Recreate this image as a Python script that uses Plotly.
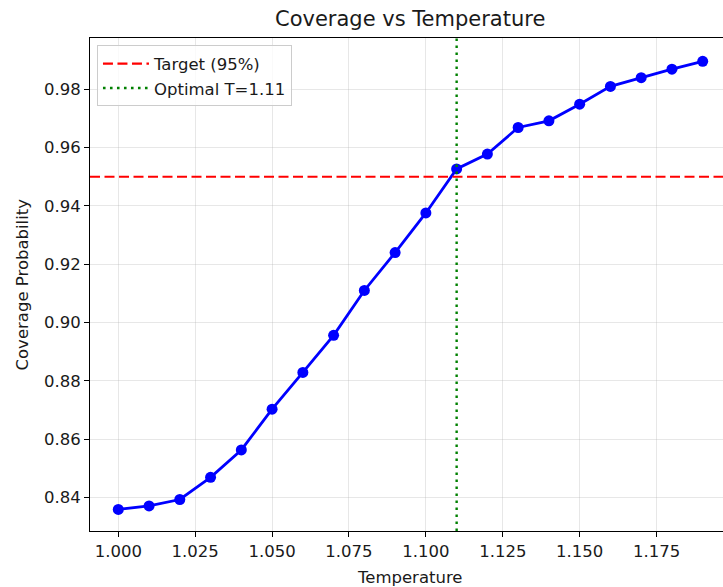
import plotly.graph_objects as go

# Temperature sweep and the measured coverage at each setting
temperature = [1.00, 1.01, 1.02, 1.03, 1.04, 1.05, 1.06, 1.07, 1.08, 1.09,
               1.10, 1.11, 1.12, 1.13, 1.14, 1.15, 1.16, 1.17, 1.18, 1.19]
coverage = [0.8359, 0.8371, 0.8393, 0.8469, 0.8563, 0.8703, 0.8829, 0.8956, 0.9110, 0.9240,
            0.9376, 0.9527, 0.9578, 0.9669, 0.9692, 0.9749, 0.9810, 0.9840, 0.9869, 0.9896]

target = 0.95
optimal_t = 1.11

x_ticks = [1.000, 1.025, 1.050, 1.075, 1.100, 1.125, 1.150, 1.175]
y_ticks = [0.84, 0.86, 0.88, 0.90, 0.92, 0.94, 0.96, 0.98]

x_range = [0.9908, 1.1966]
y_range = [0.8285, 0.9976]

FONT = "DejaVu Sans"
TEXT = "#1a1a1a"

fig = go.Figure()

fig.add_trace(go.Scatter(
    x=temperature, y=coverage, mode="lines+markers",
    line=dict(color="#0000ff", width=2.8),
    marker=dict(color="#0000ff", size=11),
    showlegend=False,
))

fig.add_trace(go.Scatter(
    x=x_range, y=[target, target], mode="lines",
    line=dict(color="#ff0000", width=2.2, dash="10px,4.5px"),
    name="Target (95%)",
))

fig.add_trace(go.Scatter(
    x=[optimal_t, optimal_t], y=y_range, mode="lines",
    line=dict(color="#008000", width=2.4, dash="2.6px,4.4px"),
    name=f"Optimal T={optimal_t:.2f}",
))

axis_common = dict(
    showline=True, linecolor="black", linewidth=1.1,
    ticks="outside", ticklen=5, tickwidth=1.1, tickcolor="black",
    showgrid=True, gridcolor="rgba(176,176,176,0.3)", gridwidth=1,
    zeroline=False,
    tickfont=dict(family=FONT, size=16.5, color=TEXT),
)

fig.update_xaxes(range=x_range, tickvals=x_ticks, tickformat=".3f",
                 mirror=True, **axis_common)
fig.update_yaxes(range=y_range, tickvals=y_ticks, tickformat=".2f",
                 mirror=False, **axis_common)

fig.update_layout(
    width=723, height=587,
    margin=dict(l=90, r=0, t=38, b=56),
    plot_bgcolor="white", paper_bgcolor="white",
    font=dict(family=FONT, color=TEXT),
    legend=dict(
        x=0.011, y=0.985, xanchor="left", yanchor="top",
        bgcolor="rgba(255,255,255,0.8)", bordercolor="#cccccc", borderwidth=1,
        font=dict(family=FONT, size=16.5, color=TEXT),
        tracegroupgap=0, itemwidth=46,
    ),
    annotations=[
        dict(text="Coverage vs Temperature", xref="paper", yref="paper",
             x=(410 - 90) / 633, y=1, yshift=5, xanchor="center", yanchor="bottom",
             showarrow=False, font=dict(family=FONT, size=21, color=TEXT)),
        dict(text="Temperature", xref="paper", yref="paper",
             x=(410 - 90) / 633, y=0, yshift=-35, xanchor="center", yanchor="top",
             showarrow=False, font=dict(family=FONT, size=16.5, color=TEXT)),
        dict(text="Coverage Probability", xref="paper", yref="paper",
             x=0, xshift=-68, y=0.5, xanchor="center", yanchor="middle", textangle=-90,
             showarrow=False, font=dict(family=FONT, size=16.5, color=TEXT)),
    ],
)

fig.write_html("out.html")
